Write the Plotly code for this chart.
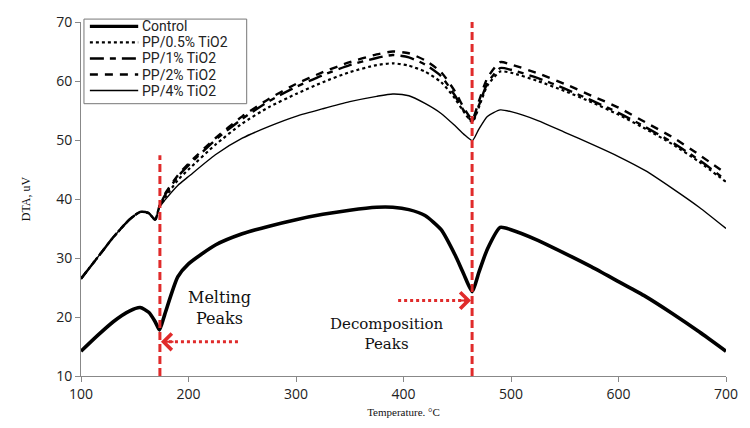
import plotly.graph_objects as go

# Temperature grid (°C)
temperature = [100, 115, 130, 145, 155, 163, 169, 173, 178, 190, 200, 225, 250, 275, 300,
               325, 350, 375, 390, 405, 420, 435, 448, 456, 464, 470, 478, 490, 500, 525,
               550, 575, 600, 625, 650, 675, 700]

control = [14.2, 16.8, 19.2, 21.0, 21.6, 20.8, 19.2, 17.8, 20.5, 26.8, 29.0, 32.2, 34.1, 35.4, 36.5,
           37.4, 38.1, 38.6, 38.6, 38.2, 37.2, 34.8, 30.5, 27.3, 24.3, 27.5, 31.5, 35.2, 34.8, 33.0,
           30.8, 28.5, 26.0, 23.5, 20.6, 17.5, 14.2]

pp_05 = [26.5, 30.0, 33.5, 36.5, 37.8, 37.6, 36.5, 38.8, 40.2, 43.2, 45.0, 49.2, 52.8, 55.6, 57.8,
         59.8, 61.5, 62.7, 63.0, 62.6, 61.6, 59.8, 57.0, 54.8, 53.0, 55.5, 59.2, 61.6, 61.4, 60.0,
         58.3, 56.4, 54.3, 51.9, 49.3, 46.3, 42.9]

pp_1 = [26.5, 30.0, 33.5, 36.5, 37.8, 37.6, 36.5, 38.8, 40.6, 43.8, 45.7, 50.0, 53.6, 56.6, 59.0,
        61.0, 62.7, 63.9, 64.4, 64.0, 62.8, 60.8, 57.5, 55.0, 53.2, 55.8, 59.6, 62.2, 61.9, 60.5,
        58.7, 56.7, 54.6, 52.2, 49.6, 46.6, 43.2]

pp_2 = [26.5, 30.0, 33.5, 36.5, 37.8, 37.6, 36.5, 38.8, 40.8, 44.0, 46.0, 50.3, 54.0, 57.0, 59.5,
        61.5, 63.2, 64.5, 65.0, 64.7, 63.5, 61.5, 58.2, 55.5, 53.5, 56.5, 60.5, 63.2, 62.8, 61.3,
        59.5, 57.5, 55.5, 53.0, 50.5, 47.5, 44.3]

pp_4 = [26.5, 30.0, 33.5, 36.5, 37.8, 37.6, 36.5, 38.6, 39.8, 42.3, 43.8, 47.5, 50.3, 52.3, 54.0,
        55.3, 56.5, 57.4, 57.8, 57.5, 56.2, 54.5, 52.4, 51.0, 49.9, 51.8, 54.0, 55.1, 54.8, 53.3,
        51.3, 49.3, 47.2, 44.8, 41.8, 38.6, 35.0]

series_names = ["Control", "PP/0.5% TiO2", "PP/1% TiO2", "PP/2% TiO2", "PP/4% TiO2"]
x_ticks = [100, 200, 300, 400, 500, 600, 700]
y_ticks = [10, 20, 30, 40, 50, 60, 70]

melting_peak_x = 173.4
melting_line_top = 47.4
melting_arrow_y = 15.8
melting_arrow_tail_x = 246
decomp_peak_x = 463.8
decomp_arrow_y = 22.8
decomp_arrow_tail_x = 395

styles = [
    dict(width=3.6, dash="solid"),
    dict(width=2.2, dash="dot"),
    dict(width=2.4, dash="14px,6px,6px,6px"),
    dict(width=2.4, dash="8px,7px"),
    dict(width=1.4, dash="solid"),
]

fig = go.Figure()
for name, ys, st in zip(series_names, [control, pp_05, pp_1, pp_2, pp_4], styles):
    fig.add_trace(go.Scatter(
        x=temperature, y=ys, mode="lines", name=name, showlegend=False,
        line=dict(color="black", width=st["width"], dash=st["dash"], shape="spline", smoothing=0.6),
    ))

# compact legend box (paper coordinates), drawn like the original's
PLOT_L, PLOT_W, PLOT_B, PLOT_H = 81, 654, 377, 364
def px_x(p):
    return (p - PLOT_L) / PLOT_W
def px_y(p):
    return (PLOT_B - p) / PLOT_H

fig.add_shape(type="rect", xref="paper", yref="paper",
              x0=px_x(84), x1=px_x(249), y0=px_y(97), y1=px_y(10),
              line=dict(color="#777", width=1), fillcolor="white", layer="above")
row_y = [17.5, 34, 50.5, 67, 83.5]
for name, st, ry in zip(series_names, styles, row_y):
    fig.add_shape(type="line", xref="paper", yref="paper",
                  x0=px_x(90), x1=px_x(139), y0=px_y(ry), y1=px_y(ry),
                  line=dict(color="black", width=min(st["width"], 3.2), dash=st["dash"]), layer="above")
    fig.add_annotation(xref="paper", yref="paper", x=px_x(142), y=px_y(ry), text=name,
                       showarrow=False, xanchor="left", yanchor="middle", borderpad=0,
                       font=dict(family="Roboto", size=14, color="#222"))

red = "#e02b2b"
fig.add_shape(type="line", x0=melting_peak_x, x1=melting_peak_x, y0=10, y1=melting_line_top,
              line=dict(color=red, width=3, dash="8px,4px"), layer="above")
fig.add_shape(type="line", x0=decomp_peak_x, x1=decomp_peak_x, y0=10, y1=70.5,
              line=dict(color=red, width=3, dash="8px,4px"), layer="above")
fig.add_shape(type="line", x0=melting_arrow_tail_x, x1=melting_peak_x + 6, y0=melting_arrow_y, y1=melting_arrow_y,
              line=dict(color=red, width=3, dash="dot"), layer="above")
fig.add_shape(type="line", x0=decomp_arrow_tail_x, x1=decomp_peak_x - 6, y0=decomp_arrow_y, y1=decomp_arrow_y,
              line=dict(color=red, width=3, dash="dot"), layer="above")
fig.add_annotation(x=melting_peak_x + 1, y=melting_arrow_y, ax=14, ay=0, text="", showarrow=True,
                   arrowhead=4, arrowsize=1.6, arrowwidth=2, arrowcolor=red)
fig.add_annotation(x=decomp_peak_x - 1, y=decomp_arrow_y, ax=-14, ay=0, text="", showarrow=True,
                   arrowhead=4, arrowsize=1.6, arrowwidth=2, arrowcolor=red)

serif = "DejaVu Serif"
fig.add_annotation(x=229, y=21.6, text="Melting<br>Peaks", showarrow=False,
                   font=dict(family=serif, size=16, color="#111"), align="center")
fig.add_annotation(x=385, y=17.1, text="Decomposition<br>Peaks", showarrow=False,
                   font=dict(family=serif, size=15, color="#111"), align="center")

fig.update_layout(
    width=750, height=428,
    margin=dict(l=81, r=15, t=13, b=51),
    paper_bgcolor="white", plot_bgcolor="white",
    showlegend=False,
    xaxis=dict(range=[100, 700], tickvals=x_ticks, showgrid=False, zeroline=False,
               showline=True, linecolor="#888", linewidth=1, ticks="outside", ticklen=5,
               tickcolor="#888", tickfont=dict(family="Open Sans", size=14, color="#222"),
               title=dict(text="Temperature. °C", font=dict(family="Liberation Serif", size=11, color="#111"),
                          standoff=6)),
    yaxis=dict(range=[10, 70], tickvals=y_ticks, showgrid=False, zeroline=False,
               showline=True, linecolor="#888", linewidth=1, ticks="outside", ticklen=5,
               tickcolor="#888", tickfont=dict(family="Open Sans", size=14, color="#222"),
               title=dict(text="DTA, uV", font=dict(family="Liberation Serif", size=12, color="#111"),
                          standoff=22)),
)

fig.write_html("out.html")
